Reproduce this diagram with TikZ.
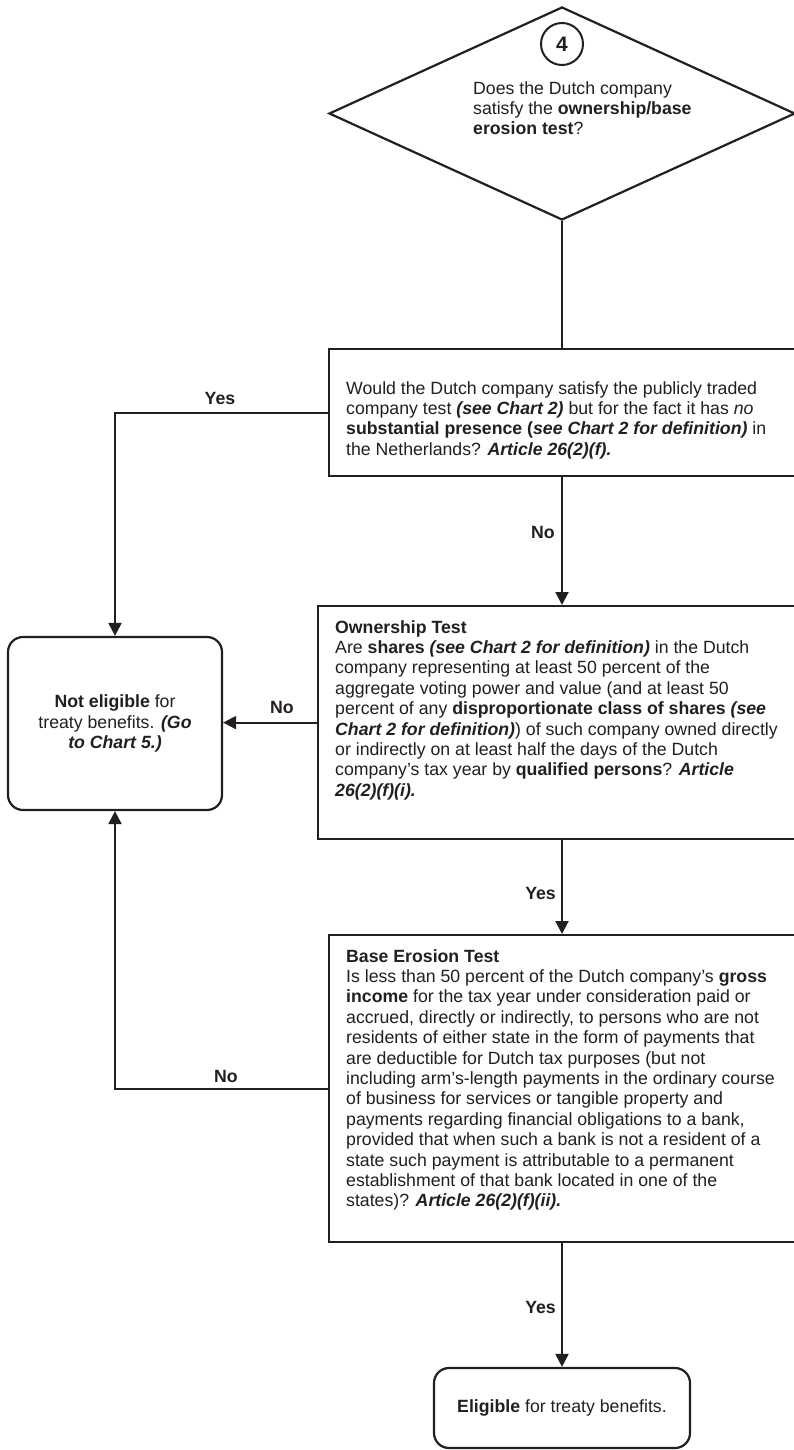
\documentclass[tikz,border=0pt]{standalone}
\usepackage{fontspec}
\setmainfont{Liberation Sans}
\usetikzlibrary{arrows.meta,shapes.geometric}
\definecolor{ink}{RGB}{35,31,32}
\newcommand\bodyfont{\fontsize{17.7pt}{20.4pt}\selectfont}
\newcommand\bi[1]{\textbf{\textit{#1}}}
\begin{document}
\begin{tikzpicture}[x=1pt,y=-1pt,
  box/.style={draw=ink,line width=2.2pt,rectangle,inner sep=0pt,anchor=north west},
  rbox/.style={draw=ink,line width=2.2pt,rectangle,rounded corners=15pt,inner sep=0pt,align=center,font=\bodyfont,text=ink},
  conn/.style={draw=ink,line width=2pt},
  arr/.style={conn,-{Triangle[width=13pt,length=13pt]}},
  lbl/.style={font=\bodyfont\bfseries,inner sep=0pt,text=ink},
  txt/.style={align=left,inner sep=0pt,anchor=north west,font=\bodyfont,text=ink}]
\useasboundingbox (0,0) rectangle (794,1450);
\clip (0,0) rectangle (794,1450);
\fill[white] (0,0) rectangle (794,1450);

% decision diamond
\node[draw=ink,line width=2.2pt,diamond,minimum width=466pt,minimum height=213pt,inner sep=0pt] (dia) at (562,113.5) {};
\node[draw=ink,line width=2pt,circle,minimum size=42pt,inner sep=0pt,text=ink,font=\fontsize{21pt}{21pt}\selectfont\bfseries] (num) at (562,44) {4};
\node[txt] (dtxt) at (473,81) {Does the Dutch company\\satisfy the \textbf{ownership/base}\\\textbf{erosion test}?};

% box 1
\node[box,minimum width=480pt,minimum height=127pt] (b1) at (328,348) {};
\node[txt] (t1) at (346,381) {Would the Dutch company satisfy the publicly traded\\company test \bi{(see Chart 2)} but for the fact it has \textit{no}\\\textbf{substantial presence (}\bi{see Chart 2 for definition)} in\\the Netherlands? \bi{Article 26(2)(f).}};

% box 2
\node[box,minimum width=490pt,minimum height=233pt] (b2) at (317,605) {};
\node[txt] (t2) at (335,620) {\textbf{Ownership Test}\\Are \textbf{shares} \bi{(see Chart 2 for definition)} in the Dutch\\company representing at least 50 percent of the\\aggregate voting power and value (and at least 50\\percent of any \textbf{disproportionate class of shares} \bi{(see}\\\bi{Chart 2 for definition)}) of such company owned directly\\or indirectly on at least half the days of the Dutch\\company’s tax year by \textbf{qualified persons}? \bi{Article}\\\bi{26(2)(f)(i).}};

% box 3
\node[box,minimum width=480pt,minimum height=307pt] (b3) at (328,934) {};
\node[txt] (t3) at (346,949) {\textbf{Base Erosion Test}\\Is less than 50 percent of the Dutch company’s \textbf{gross}\\\textbf{income} for the tax year under consideration paid or\\accrued, directly or indirectly, to persons who are not\\residents of either state in the form of payments that\\are deductible for Dutch tax purposes (but not\\including arm’s-length payments in the ordinary course\\of business for services or tangible property and\\payments regarding financial obligations to a bank,\\provided that when such a bank is not a resident of a\\state such payment is attributable to a permanent\\establishment of that bank located in one of the\\states)? \bi{Article 26(2)(f)(ii).}};

% terminal boxes
\node[rbox,minimum width=214pt,minimum height=173pt] (ne) at (115,723.5) {\textbf{Not eligible} for\\treaty benefits. \bi{(Go}\\\bi{to Chart 5.)}};
\node[rbox,minimum width=256pt,minimum height=80pt] (el) at (562,1408) {\textbf{Eligible} for treaty benefits.};

% connectors
\draw[conn] (dia.south) -- (dia.south |- b1.north);
\draw[arr] (b1.west) -| (ne.north);
\draw[arr] (dia.south |- b1.south) -- (dia.south |- b2.north);
\draw[arr] (b2.west) -- (b2.west -| ne.east);
\draw[arr] (dia.south |- b2.south) -- (dia.south |- b3.north);
\draw[arr] (b3.west) -| (ne.south);
\draw[arr] (dia.south |- b3.south) -- (el.north);

% labels
\node[lbl] (l1) at (220,398) {Yes};
\node[lbl,anchor=east] (l2) at (555,532) {No};
\node[lbl] (l3) at (282,707) {No};
\node[lbl,anchor=east] (l4) at (556,893) {Yes};
\node[lbl] (l5) at (226,1076) {No};
\node[lbl,anchor=east] (l6) at (556,1307) {Yes};
\end{tikzpicture}
\end{document}
